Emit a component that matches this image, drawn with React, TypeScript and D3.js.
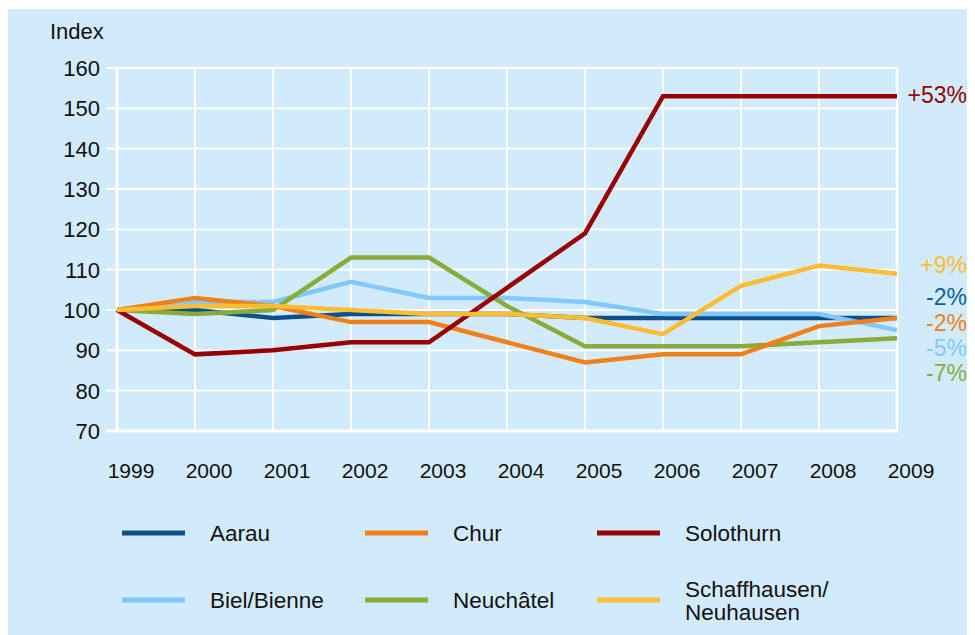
import React, { useRef, useEffect } from 'react';
import * as d3 from 'd3';

const years = [1999, 2000, 2001, 2002, 2003, 2004, 2005, 2006, 2007, 2008, 2009];
const yTicks = [70, 80, 90, 100, 110, 120, 130, 140, 150, 160];

const aarau = [100, 100, 98, 99, 99, 99, 98, 98, 98, 98, 98];
const chur = [100, 103, 101, 97, 97, 92, 87, 89, 89, 96, 98];
const solothurn = [100, 89, 90, 92, 92, 105.5, 119, 153, 153, 153, 153];
const biel = [100, 102, 102, 107, 103, 103, 102, 99, 99, 99, 95];
const neuchatel = [100, 99, 100, 113, 113, 101, 91, 91, 91, 92, 93];
const schaffhausen = [100, 101, 101, 100, 99, 99, 98, 94, 106, 111, 109];

const seriesNames = ['Aarau', 'Chur', 'Solothurn', 'Biel/Bienne', 'Neuchâtel', 'Schaffhausen/\nNeuhausen'];
const seriesValues = [aarau, chur, solothurn, biel, neuchatel, schaffhausen];
const seriesColors = ['#0b4f8c', '#f08119', '#990000', '#82c8fd', '#88ab3a', '#fcbd33'];
const endLabels = ['-2%', '-2%', '+53%', '-5%', '-7%', '+9%'];
// draw order: back to front
const drawOrder = [0, 3, 4, 1, 2, 5];

const W = 975;
const H = 635;
const FONT = '"Liberation Sans", Arial, Helvetica, sans-serif';

const App: React.FC = () => {
    const svgRef = useRef<SVGSVGElement | null>(null);

    useEffect(() => {
        if (!svgRef.current) return;
        const svg = d3.select(svgRef.current);
        svg.selectAll('*').remove();

        // work in page coordinates (body margin is 8px)
        const root = svg.append('g').attr('transform', 'translate(-8,-8)');

        root.append('rect')
            .attr('x', 8).attr('y', 9)
            .attr('width', W - 8).attr('height', H - 9)
            .attr('fill', '#d1ebfd');

        const x = d3.scaleLinear().domain([1999, 2009]).range([117, 897]);
        const y = d3.scaleLinear().domain([70, 160]).range([431, 68]);

        const grid = root.append('g');
        years.forEach(yr => {
            grid.append('line')
                .attr('x1', x(yr)).attr('x2', x(yr))
                .attr('y1', y(160)).attr('y2', y(70))
                .attr('stroke', '#fff')
                .attr('stroke-width', yr === 1999 ? 3 : yr === 2009 ? 2.5 : 1.8);
        });
        yTicks.forEach(t => {
            grid.append('line')
                .attr('x1', 106).attr('x2', x(2009) + 1)
                .attr('y1', y(t)).attr('y2', y(t))
                .attr('stroke', '#fff')
                .attr('stroke-width', t === 70 ? 3 : 1.8);
        });

        root.append('g').selectAll('text')
            .data(yTicks)
            .enter()
            .append('text')
            .attr('x', 100)
            .attr('y', d => y(d) + 8)
            .attr('text-anchor', 'end')
            .style('font-family', FONT)
            .style('font-size', '22px')
            .attr('fill', '#111')
            .text(d => d);

        root.append('text')
            .attr('x', 50).attr('y', 39)
            .style('font-family', FONT)
            .style('font-size', '22px')
            .attr('fill', '#111')
            .text('Index');

        root.append('g').selectAll('text')
            .data(years)
            .enter()
            .append('text')
            .attr('x', d => x(d) + 14)
            .attr('y', 478)
            .attr('text-anchor', 'middle')
            .style('font-family', FONT)
            .style('font-size', '21px')
            .attr('fill', '#111')
            .text(d => d);

        const line = d3.line<number>()
            .x((_, i) => x(years[i]))
            .y(d => y(d));

        drawOrder.forEach(i => {
            root.append('path')
                .datum(seriesValues[i])
                .attr('d', line)
                .attr('fill', 'none')
                .attr('stroke', seriesColors[i])
                .attr('stroke-width', 4.5)
                .attr('stroke-linejoin', 'miter');
        });

        // end labels, stacked to avoid overlap
        const labelYs: Record<number, number> = { 2: 95, 5: 265, 0: 297, 1: 323, 3: 348, 4: 373 };
        Object.keys(labelYs).forEach(k => {
            const i = +k;
            root.append('text')
                .attr('x', 967)
                .attr('y', labelYs[i] + 8)
                .attr('text-anchor', 'end')
                .style('font-family', FONT)
                .style('font-size', '23px')
                .attr('fill', seriesColors[i] === '#0b4f8c' ? '#0b5fa0' : seriesColors[i])
                .text(endLabels[i]);
        });

        // legend
        const legCols = [122, 365, 597];
        const legRows = [533, 600];
        seriesNames.forEach((name, i) => {
            const cx = legCols[i % 3];
            const cy = legRows[Math.floor(i / 3)];
            root.append('line')
                .attr('x1', cx).attr('x2', cx + 63)
                .attr('y1', cy).attr('y2', cy)
                .attr('stroke', seriesColors[i])
                .attr('stroke-width', 5);
            const lines = name.split('\n');
            const t = root.append('text')
                .attr('x', cx + 88)
                .attr('y', cy + 8 - (lines.length - 1) * 11)
                .style('font-family', FONT)
                .style('font-size', '22.5px')
                .attr('fill', '#111');
            lines.forEach((ln, j) => {
                t.append('tspan')
                    .attr('x', cx + 88)
                    .attr('dy', j === 0 ? 0 : 23)
                    .text(ln);
            });
        });
    }, []);

    return (
        <svg ref={svgRef} width={W - 8} height={H - 8} style={{ display: 'block' }}></svg>
    );
};

export default App;
